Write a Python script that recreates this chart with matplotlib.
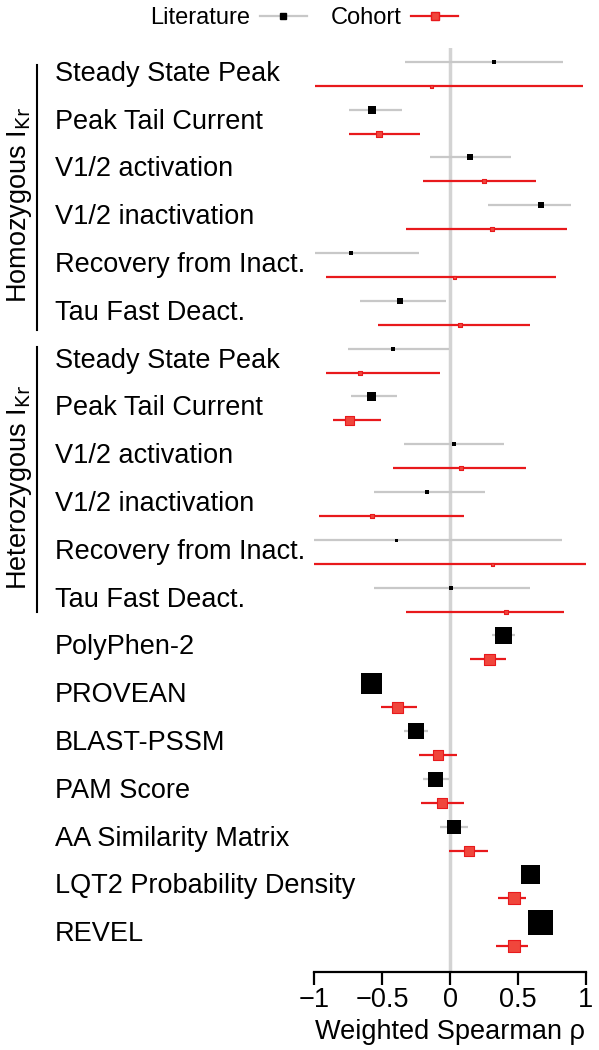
import matplotlib.pyplot as plt
import matplotlib.transforms as mtransforms
from matplotlib.lines import Line2D

plt.rcParams['font.family'] = ['Liberation Sans', 'DejaVu Sans']

labels = ["Steady State Peak", "Peak Tail Current", "V1/2 activation", "V1/2 inactivation",
          "Recovery from Inact.", "Tau Fast Deact.",
          "Steady State Peak", "Peak Tail Current", "V1/2 activation", "V1/2 inactivation",
          "Recovery from Inact.", "Tau Fast Deact.",
          "PolyPhen-2", "PROVEAN", "BLAST-PSSM", "PAM Score", "AA Similarity Matrix",
          "LQT2 Probability Density", "REVEL"]

# literature estimates (weighted spearman rho) with 95% CI
lit_est = [0.32, -0.57, 0.15, 0.67, -0.73, -0.37,
           -0.42, -0.58, 0.03, -0.17, -0.40, 0.01,
           0.39, -0.58, -0.25, -0.11, 0.03, 0.59, 0.66]
lit_lo = [-0.33, -0.74, -0.15, 0.28, -0.99, -0.66,
          -0.75, -0.73, -0.34, -0.56, -1.0, -0.56,
          0.31, -0.62, -0.34, -0.20, -0.07, 0.53, 0.62]
lit_hi = [0.83, -0.35, 0.45, 0.89, -0.23, -0.03,
          -0.01, -0.39, 0.40, 0.26, 0.82, 0.59,
          0.48, -0.55, -0.16, -0.01, 0.13, 0.62, 0.70]
lit_w = [4, 8, 6, 6, 5, 6, 5, 9, 5, 5, 3, 4, 17, 21, 16, 15, 14, 19, 25]

# cohort estimates
coh_est = [-0.14, -0.52, 0.25, 0.31, 0.03, 0.07,
           -0.66, -0.74, 0.08, -0.57, 0.31, 0.41,
           0.29, -0.39, -0.09, -0.06, 0.14, 0.47, 0.47]
coh_lo = [-0.99, -0.74, -0.20, -0.32, -0.91, -0.53,
          -0.91, -0.86, -0.42, -0.96, -1.0, -0.32,
          0.15, -0.51, -0.23, -0.21, -0.01, 0.35, 0.34]
coh_hi = [0.98, -0.22, 0.63, 0.86, 0.78, 0.59,
          -0.07, -0.51, 0.56, 0.10, 1.0, 0.84,
          0.41, -0.24, 0.05, 0.10, 0.28, 0.56, 0.57]
coh_w = [3, 6, 5, 4, 3, 5, 5, 9, 5, 4, 3, 4, 11, 11, 10, 10, 10, 12, 12]

grey = '#c8c8c8'
red = '#e8191c'
red_fill = '#f0463c'

fig = plt.figure(figsize=(5.99, 10.5), dpi=100)
ax = fig.add_axes([314/599, 78/1050, 272/599, 924/1050])

n = len(labels)
rows = list(range(n))
off = 0.25

ax.axvline(0, color='#d3d3d3', lw=2.5, zorder=0)

for i in rows:
    y1 = i - off
    y2 = i + off
    ax.hlines(y1, lit_lo[i], lit_hi[i], color=grey, lw=1.6, zorder=1)
    ax.scatter(lit_est[i], y1, marker='s', s=(lit_w[i]*0.72)**2, color='black',
               linewidths=0, zorder=3)
    ax.hlines(y2, coh_lo[i], coh_hi[i], color=red, lw=1.6, zorder=1)
    ax.scatter(coh_est[i], y2, marker='s', s=(coh_w[i]*0.72)**2, facecolor=red_fill,
               edgecolor=red, linewidths=0.8, zorder=3)

ax.set_xlim(-1, 1)
ax.set_ylim(n - 1 + 0.79, -0.54)

for s in ['top', 'right', 'left']:
    ax.spines[s].set_visible(False)
ax.spines['bottom'].set_linewidth(1.6)
ax.spines['bottom'].set_bounds(-1, 1)
ax.set_yticks([])
ax.set_xticks([-1, -0.5, 0, 0.5, 1])
ax.set_xticklabels(['\u22121', '\u22120.5', '0', '0.5', '1'])
ax.tick_params(axis='x', length=9, width=1.6, labelsize=19.5, pad=2)
ax.set_xlabel('Weighted Spearman \u03c1', fontsize=19.5, labelpad=4)

# row labels on the left
trans = mtransforms.blended_transform_factory(fig.transFigure, ax.transData)
for i, lab in enumerate(labels):
    ax.text(55/599, i, lab, transform=trans, ha='left', va='center', fontsize=19.5,
            clip_on=False)

# group brackets
for top, bot, name in [(65, 330, r'Homozygous I$_{\mathrm{Kr}}$'),
                       (347, 612, r'Heterozygous I$_{\mathrm{Kr}}$')]:
    fig.add_artist(Line2D([37/599, 37/599], [1 - top/1050, 1 - bot/1050],
                          color='black', lw=1.5, transform=fig.transFigure))
    fig.text(20/599, 1 - (top + bot + 16)/2/1050, name, rotation=90, ha='center',
             va='center', fontsize=19.5)

handles = [Line2D([], [], color=grey, lw=1.6, marker='s', markersize=5,
                  markerfacecolor='black', markeredgecolor='black'),
           Line2D([], [], color=red, lw=1.6, marker='s', markersize=6,
                  markerfacecolor=red_fill, markeredgecolor=red)]
fig.legend(handles, ['Literature', 'Cohort'], loc='center', bbox_to_anchor=(0.508, 0.983),
           ncol=2, frameon=False, markerfirst=False, handlelength=2.0,
           handletextpad=0.4, columnspacing=1.0, fontsize=17)

fig.savefig('out.png', dpi=100)
